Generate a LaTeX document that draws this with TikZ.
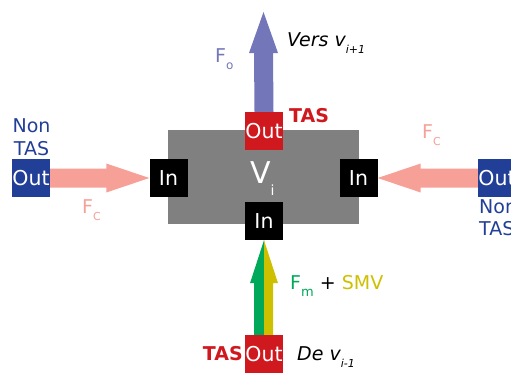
\documentclass[tikz,border=0pt]{standalone}
\usepackage{fontspec}
\setmainfont{DejaVu Sans}
\usetikzlibrary{calc}
\definecolor{cred}{HTML}{D0181F}
\definecolor{cblue}{HTML}{223F98}
\definecolor{cgray}{HTML}{808080}
\definecolor{csalmon}{HTML}{F6A098}
\definecolor{cviolet}{HTML}{7377B9}
\definecolor{cgreen}{HTML}{00A85A}
\definecolor{cyellow}{HTML}{CDC000}
\newcommand\lowsub[3][7pt]{\raisebox{-#1}{\fontsize{#2}{#2}\selectfont #3}}
\begin{document}
\begin{tikzpicture}[x=1pt,y=-1pt,
  port/.style={minimum width=38pt,minimum height=38pt,inner sep=0pt,text=white,
    font=\fontsize{20.5}{22}\selectfont},
  inport/.style={port,fill=black},
  redport/.style={port,fill=cred},
  blueport/.style={port,fill=cblue},
  lbl/.style={inner sep=0pt,font=\fontsize{19}{21}\selectfont},
  ]
\useasboundingbox (0,0) rectangle (511,373);
\clip (0,0) rectangle (511,373);
% central block
\node[fill=cgray,minimum width=191pt,minimum height=94pt,inner sep=0pt] (vi) at (263.5,177) {};
\node[lbl,anchor=base west,text=white,font=\fontsize{30}{32}\selectfont] (vlbl) at (250,183) {V\lowsub[12pt]{14}{i}};
% ports
\node[redport] (to) at (264,131) {Out};
\node[inport] (li) at (168.5,178) {In};
\node[inport] (ri) at (358.5,178) {In};
\node[inport] (bi) at (264,221) {In};
\node[redport] (bo) at (264,354) {Out};
\node[blueport] (lo) at (31,178) {Out};
\node[blueport] (ro) at (497,178) {Out};
\coordinate (tipo) at (263.5,12);
% arrows
\fill[csalmon] ($(lo.east)+(0,-9.5)$) -- ($(li.west)+(-43,-9.5)$) -- ($(li.west)+(-43,-14.5)$) -- (li.west)
  -- ($(li.west)+(-43,14.5)$) -- ($(li.west)+(-43,9.5)$) -- ($(lo.east)+(0,9.5)$) -- cycle;
\fill[csalmon] ($(ro.west)+(0,-9.5)$) -- ($(ri.east)+(43,-9.5)$) -- ($(ri.east)+(43,-14.5)$) -- (ri.east)
  -- ($(ri.east)+(43,14.5)$) -- ($(ri.east)+(43,9.5)$) -- ($(ro.west)+(0,9.5)$) -- cycle;
\fill[cviolet] ($(to.north)+(-9.5,0)$) -- ($(tipo)+(-9.5,41)$) -- ($(tipo)+(-14.5,41)$) -- (tipo)
  -- ($(tipo)+(14.5,41)$) -- ($(tipo)+(9.5,41)$) -- ($(to.north)+(9.5,0)$) -- cycle;
\fill[cgreen] ($(bo.north)+(-10,0)$) -- ($(bi.south)+(-10,43)$) -- ($(bi.south)+(-14,43)$) -- (bi.south)
  -- ($(bi.south)+(0,43)$) -- (bo.north) -- cycle;
\fill[cyellow] ($(bo.north)+(9,0)$) -- ($(bi.south)+(9,43)$) -- ($(bi.south)+(14,43)$) -- (bi.south)
  -- ($(bi.south)+(0,43)$) -- (bo.north) -- cycle;
% labels
\node[lbl,anchor=base,text=cblue] (ln1) at (31.5,132) {Non};
\node[lbl,anchor=base,text=cblue] (ln2) at (31.5,155) {TAS};
\node[lbl,anchor=base west,text=cblue] (rn1) at (479,213) {Non};
\node[lbl,anchor=base west,text=cblue] (rn2) at (479,235) {TAS};
\node[lbl,anchor=base west,text=csalmon] (fcl) at (82,213) {F\lowsub{11}{C}};
\node[lbl,anchor=base west,text=csalmon] (fcr) at (422,138) {F\lowsub{11}{C}};
\node[lbl,anchor=base west,text=cviolet] (fo) at (215,62) {F\lowsub{12}{o}};
\node[lbl,anchor=base west] (vers) at (287,46.5) {\itshape Vers v\lowsub{11}{\itshape i+1}};
\node[lbl,anchor=base west,text=cred,font=\fontsize{19}{21}\selectfont\bfseries] (tast) at (289,122.5) {TAS};
\node[lbl,anchor=base west] (fm) at (290,289) {\textcolor{cgreen}{F\lowsub{13}{m}} + \textcolor{cyellow}{SMV}};
\node[lbl,anchor=base east,text=cred,font=\fontsize{19}{21}\selectfont\bfseries] (tasb) at (243,360) {TAS};
\node[lbl,anchor=base west] (dev) at (297,360) {\itshape De v\lowsub{11}{\itshape i-1}};
\end{tikzpicture}
\end{document}
